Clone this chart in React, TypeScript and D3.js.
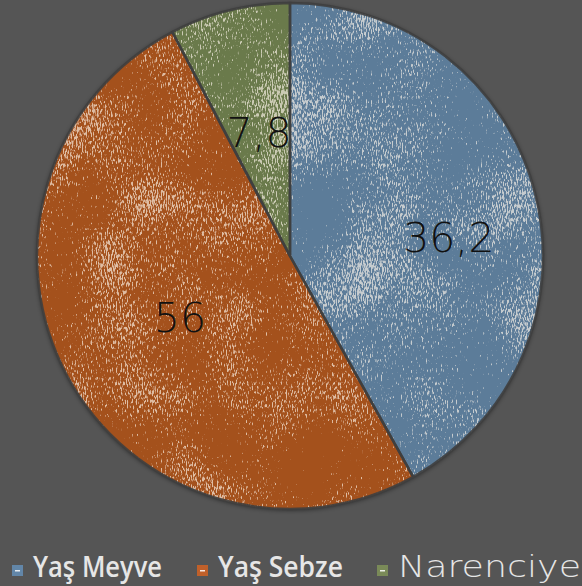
import React from 'react';
import * as d3 from 'd3';

// slice data
const categories = ['Yaş Meyve', 'Yaş Sebze', 'Narenciye'];
const valueLabels = ['36,2', '56', '7,8'];
// slice sizes as drawn in the picture (the drawn angles differ from the printed labels)
const sliceShares = [41.9, 50.4, 7.7];
const colors = ['#5b7c99', '#a4511f', '#6b7a4c'];
const legendColors = ['#6286a8', '#c0602a', '#7a8a58'];
// where the label sits inside its slice: [fraction of the slice angle, fraction of radius]
const labelPlacement = [[0.553, 0.632], [0.494, 0.5], [0.49, 0.5]];

const W = 582, H = 586;

export default function App() {
  const cx = 290, cy = 256, R = 253;

  const pie = d3.pie<number>().sort(null).value(d => d);
  const arcs = pie(sliceShares);
  const arc = d3.arc<d3.PieArcDatum<number>>().innerRadius(0).outerRadius(R);

  const labelPos = (a: d3.PieArcDatum<number>, i: number) => {
    const [fa, fr] = labelPlacement[i];
    const ang = a.startAngle + (a.endAngle - a.startAngle) * fa;
    const r = R * fr;
    return [Math.sin(ang) * r, -Math.cos(ang) * r];
  };

  // legend layout
  const legendX = [12, 197, 377];
  const legendWidths = [129, 125, 183];
  const legendFonts = ["'Open Sans', sans-serif", "'Open Sans', sans-serif", "'DejaVu Sans', sans-serif"];
  const legendWeights = [600, 600, 200];
  const legendSizes = [29, 29, 31];

  return (
    <svg width={W} height={H} style={{ position: 'absolute', left: 0, top: 0, background: '#555555' }}>
      <defs>
        <filter id="speck" x="0" y="0" width="100%" height="100%" colorInterpolationFilters="sRGB">
          <feTurbulence type="fractalNoise" baseFrequency="0.8 0.22" numOctaves="2" seed="7" result="f0" />
          <feColorMatrix in="f0" type="matrix" values="1 0 0 0 0  0 1 0 0 0  0 0 1 0 0  0 0 0 0 1" result="fine" />
          <feTurbulence type="fractalNoise" baseFrequency="0.012" numOctaves="2" seed="3" result="c0" />
          <feColorMatrix in="c0" type="matrix" values="1 0 0 0 0  0 1 0 0 0  0 0 1 0 0  0 0 0 0 1" result="coarse" />
          <feComposite in="fine" in2="coarse" operator="arithmetic" k1="0" k2="1" k3="0.6" k4="-0.3" result="mix" />
          <feColorMatrix in="mix" type="matrix"
            values="0 0 0 0 1  0 0 0 0 0.97  0 0 0 0 0.93  7 0 0 0 -4.1" />
        </filter>
        <filter id="shadow" x="-10%" y="-10%" width="120%" height="120%">
          <feDropShadow dx="0" dy="1" stdDeviation="2.5" floodColor="#000" floodOpacity="0.55" />
        </filter>
        <clipPath id="pieClip">
          <circle cx={cx} cy={cy} r={R} />
        </clipPath>
      </defs>
      <rect width={W} height={H} fill="#555555" />
      <g transform={`translate(${cx},${cy})`} filter="url(#shadow)">
        {arcs.map((a, i) => (
          <path key={i} d={arc(a) || ''} fill={colors[i]} />
        ))}
      </g>
      <g clipPath="url(#pieClip)">
        <rect x={cx - R} y={cy - R} width={2 * R} height={2 * R} filter="url(#speck)" opacity={0.65} />
      </g>
      <g transform={`translate(${cx},${cy})`}>
        {arcs.map((a, i) => (
          <path key={i} d={arc(a) || ''} fill="none" stroke="#3f3f3f" strokeWidth={2.5} strokeOpacity={0.9} />
        ))}
        {arcs.map((a, i) => {
          const [x, y] = labelPos(a, i);
          return (
            <text key={i} x={x} y={y} textAnchor="middle" dominantBaseline="central"
              fontFamily="'DejaVu Sans', sans-serif" fontWeight={200} fontSize={41} fill="#111">
              {valueLabels[i]}
            </text>
          );
        })}
      </g>
      <g>
        {categories.map((c, i) => (
          <g key={i} transform={`translate(${legendX[i]},0)`}>
            <rect x={0} y={565} width={11} height={11} fill={legendColors[i]} />
            <rect x={3} y={570} width={5} height={1.5} fill="#fff" opacity={0.85} />
            <text x={21} y={577} fontFamily={legendFonts[i]} fontWeight={legendWeights[i]}
              fontSize={legendSizes[i]} fill="#e6e6e6" textLength={legendWidths[i]} lengthAdjust="spacingAndGlyphs">{c}</text>
          </g>
        ))}
      </g>
    </svg>
  );
}
